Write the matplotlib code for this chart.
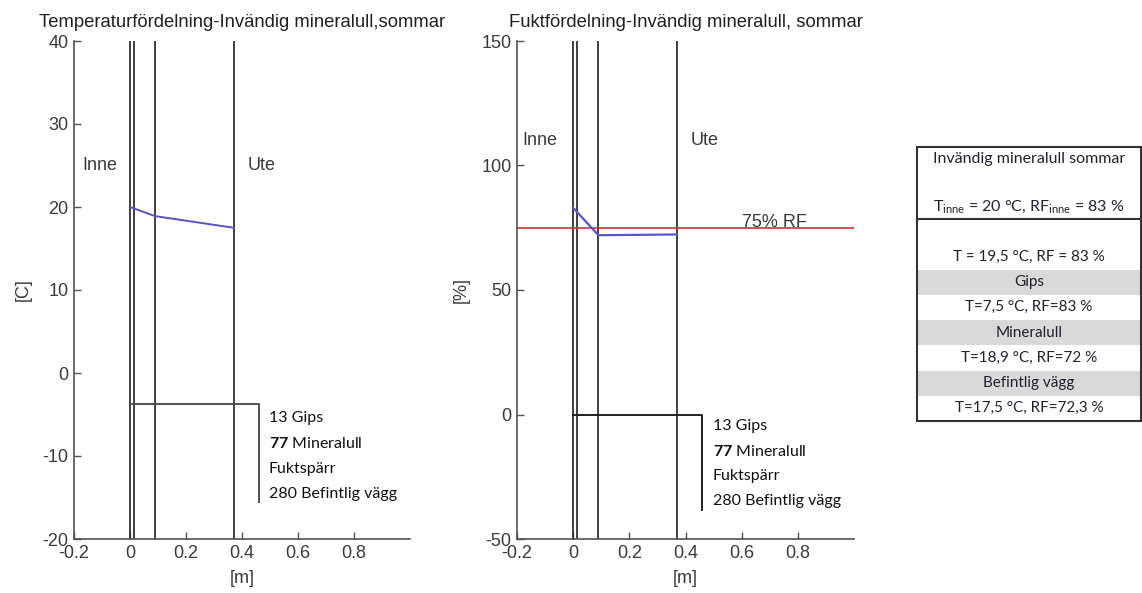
import matplotlib
matplotlib.use("Agg")
import matplotlib.pyplot as plt
from matplotlib.patches import Rectangle

plt.rcParams['font.family'] = ['Liberation Sans', 'DejaVu Sans']
plt.rcParams['axes.unicode_minus'] = False
plt.rcParams['mathtext.fontset'] = 'custom'
plt.rcParams['mathtext.rm'] = 'Lato'
plt.rcParams['mathtext.bf'] = 'Lato:bold'

# layer boundaries [m]: 13 mm gips, 77 mm mineralull, 280 mm befintlig vägg
walls = [0.0, 0.013, 0.09, 0.37]

# temperature profile [C]
temp_x = [0.0, 0.09, 0.37]
temp_y = [20.0, 18.9, 17.5]

# relative humidity profile [%]
rf_x = [0.0, 0.09, 0.37]
rf_y = [83.0, 72.0, 72.3]
rf_limit = 75

layer_labels = ["13 Gips", r"$\bf{77}$ Mineralull", "Fuktspärr", "280 Befintlig vägg"]

table_head = ["Invändig mineralull sommar", "",
              r"T$_{\mathrm{inne}}$ = 20 °C, RF$_{\mathrm{inne}}$ = 83 %"]
table_body = ["", "T = 19,5 °C, RF = 83 %", "Gips", "T=7,5 °C, RF=83 %",
              "Mineralull", "T=18,9 °C, RF=72 %", "Befintlig vägg", "T=17,5 °C, RF=72,3 %"]
table_shaded = [False, False, True, False, True, False, True, False]

W, H = 1142, 593
fig = plt.figure(figsize=(W / 100, H / 100), dpi=100)

axcol = '#505050'
txtcol = '#3a3a3a'
wallcol = '#303030'
lato = ['Lato', 'DejaVu Sans']


def setup(ax, ylim, yticks, ylabel, title):
    ax.set_xlim(-0.2, 1.0)
    ax.set_ylim(*ylim)
    ax.set_xticks([-0.2, 0, 0.2, 0.4, 0.6, 0.8])
    ax.set_xticklabels(['-0.2', '0', '0.2', '0.4', '0.6', '0.8'])
    ax.set_yticks(yticks)
    ax.spines['top'].set_visible(False)
    ax.spines['right'].set_visible(False)
    for s in ('left', 'bottom'):
        ax.spines[s].set_color(axcol)
        ax.spines[s].set_linewidth(1.2)
    ax.tick_params(direction='in', length=5, width=1, color=axcol,
                   labelcolor=txtcol, labelsize=13, pad=4)
    ax.set_xlabel('[m]', fontsize=13, color=txtcol, labelpad=6)
    ax.set_ylabel(ylabel, fontsize=13, color=txtcol, labelpad=8)
    ax.set_title(title, fontsize=13.3, color='#202020', pad=10)
    for w in walls:
        ax.axvline(w, color=wallcol, lw=1.3)


def layer_text(ax, x, ys):
    for y, lab in zip(ys, layer_labels):
        ax.text(x, y, lab, fontsize=11.5, color='#111111', va='center', ha='left',
                family=lato)


# temperature
ax1 = fig.add_axes([74 / W, 1 - 539 / H, 336 / W, 498 / H])
setup(ax1, (-20, 40), [-20, -10, 0, 10, 20, 30, 40], '[C]',
      'Temperaturfördelning-Invändig mineralull,sommar')
ax1.plot(temp_x, temp_y, color='#5555bb', lw=1.4)
ax1.text(-0.17, 25, 'Inne', fontsize=13, color=txtcol, va='center')
ax1.text(0.42, 25, 'Ute', fontsize=13, color=txtcol, va='center')
ax1.plot([0, 0.46, 0.46], [-3.75, -3.75, -15.5], color='#505050', lw=1.4)
layer_text(ax1, 0.495, [-5.4, -8.5, -11.6, -14.6])

# relative humidity
ax2 = fig.add_axes([517 / W, 1 - 539 / H, 337 / W, 498 / H])
setup(ax2, (-50, 150), [-50, 0, 50, 100, 150], '[%]',
      'Fuktfördelning-Invändig mineralull, sommar')
ax2.axhline(rf_limit, color='#cc3333', lw=1.2)
ax2.plot(rf_x, rf_y, color='#5555cc', lw=1.6)
ax2.text(0.6, rf_limit + 0.5, f'{rf_limit}% RF', fontsize=13, color=txtcol, va='baseline')
ax2.text(-0.18, 110, 'Inne', fontsize=13, color=txtcol, va='center')
ax2.text(0.42, 110, 'Ute', fontsize=13, color=txtcol, va='center')
ax2.plot([0, 0.46, 0.46], [0, 0, -38.5], color='#202020', lw=1.4)
layer_text(ax2, 0.497, [-4.6, -14.7, -24.7, -34.7])

# summary table, drawn in pixel units
x0, x1, y0, ysep, y1 = 917, 1141, 147, 219, 421
ax3 = fig.add_axes([x0 / W, 1 - y1 / H, (x1 - x0) / W, (y1 - y0) / H])
ax3.set_xlim(x0, x1)
ax3.set_ylim(y1, y0)
ax3.axis('off')
xc = (x0 + x1) / 2
rh = (ysep - y0) / len(table_head)
for i, t in enumerate(table_head):
    ax3.text(xc, y0 + rh * (i + 0.5), t, ha='center', va='center', fontsize=11.5,
             color='#26202e', family=lato)
rh = (y1 - ysep) / len(table_body)
for i, (t, sh) in enumerate(zip(table_body, table_shaded)):
    top = ysep + rh * i
    if sh:
        ax3.add_patch(Rectangle((x0, top), x1 - x0, rh, color='#d9d9d9', lw=0))
    ax3.text(xc, top + rh * 0.5, t, ha='center', va='center', fontsize=11,
             color='#26202e', family=lato)
ax3.add_patch(Rectangle((x0, y0), x1 - x0, y1 - y0, fill=False, ec='#333333', lw=1.5,
                        clip_on=False))
ax3.plot([x0, x1], [ysep, ysep], color='#333333', lw=1.5, clip_on=False)

fig.savefig('out.png', dpi=100)
